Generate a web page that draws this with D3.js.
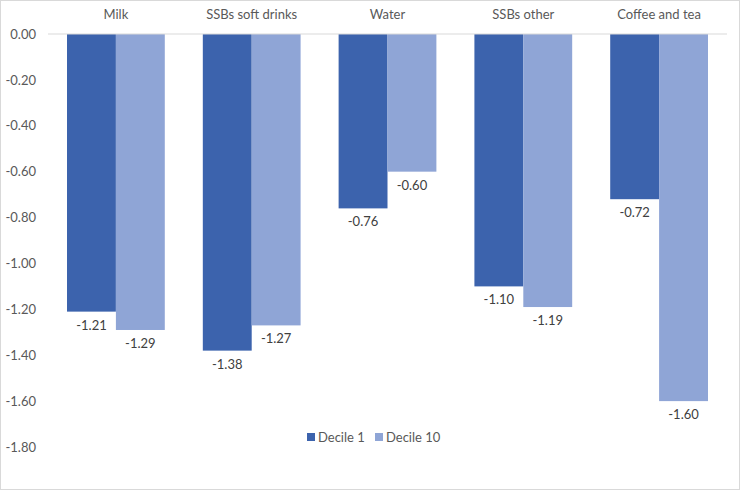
<!DOCTYPE html>
<html><head><meta charset="utf-8">
<script src="https://cdn.jsdelivr.net/npm/d3@7"></script>
<style>
html,body{margin:0;padding:0;background:#fff;}
svg{display:block;font-family:Lato,"Open Sans",sans-serif;}
</style></head>
<body>
<svg id="chart" width="740" height="490"></svg>
<script>
const categories = ["Milk","SSBs soft drinks","Water","SSBs other","Coffee and tea"];
const seriesNames = ["Decile 1","Decile 10"];
const decile1 = [-1.21,-1.38,-0.76,-1.10,-0.72];
const decile10 = [-1.29,-1.27,-0.60,-1.19,-1.60];
const yTicks = [0,-0.2,-0.4,-0.6,-0.8,-1.0,-1.2,-1.4,-1.6,-1.8];
const colors = ["#3c63ad","#8fa5d6"];

(function(){
const fmt = d3.formatLocale({decimal:".",thousands:",",grouping:[3],currency:["",""],minus:"-"}).format(".2f");
const svg = d3.select("#chart");
const W=740,H=490;
svg.append("rect").attr("x",0.5).attr("y",0.5).attr("width",W-1).attr("height",H-1)
  .attr("fill","#fff").attr("stroke","#d9d9d9");

const pL=48,pR=727,pT=34,pB=447;
const x = d3.scaleBand().domain(categories).range([pL,pR]).paddingInner(0.28).paddingOuter(0.14);
const xs = d3.scaleBand().domain(seriesNames).range([0,x.bandwidth()]);
const y = d3.scaleLinear().domain([0,-1.8]).range([pT,pB]);

const yAxis = d3.axisLeft(y).tickValues(yTicks).tickFormat(fmt).tickSize(0).tickPadding(0);
const ga = svg.append("g").attr("transform",`translate(36,0)`).call(yAxis);
ga.select(".domain").remove();
ga.selectAll("text").attr("fill","#595959").style("font-size","13px").style("font-family","Lato,'Open Sans',sans-serif");

const data = categories.map((c,i)=>({c, vals:[decile1[i],decile10[i]]}));

const g = svg.append("g");
data.forEach(d=>{
  d.vals.forEach((v,j)=>{
    const bx = x(d.c)+xs(seriesNames[j]);
    g.append("rect").attr("x",bx).attr("y",y(0)).attr("width",xs.bandwidth())
      .attr("height",y(v)-y(0)).attr("fill",colors[j]);
    g.append("text").attr("x",bx+xs.bandwidth()/2).attr("y",y(v)+18)
      .attr("text-anchor","middle").attr("fill","#404040").style("font-size","13px")
      .text(fmt(v));
  });
  svg.append("text").attr("x",x(d.c)+x.bandwidth()/2).attr("y",19)
    .attr("text-anchor","middle").attr("fill","#595959").style("font-size","13px").text(d.c);
});

svg.append("line").attr("x1",pL).attr("x2",pR).attr("y1",y(0)).attr("y2",y(0))
  .attr("stroke","#d9d9d9").attr("stroke-width",1);

const legend = svg.append("g").attr("transform","translate(307,437)");
const items = [{n:seriesNames[0],c:colors[0],x:0},{n:seriesNames[1],c:colors[1],x:68}];
items.forEach(it=>{
  legend.append("rect").attr("x",it.x).attr("y",-4).attr("width",8).attr("height",8).attr("fill",it.c);
  legend.append("text").attr("x",it.x+11).attr("y",4.5).attr("fill","#595959").style("font-size","13px").text(it.n);
});
})();
</script>
</body></html>
